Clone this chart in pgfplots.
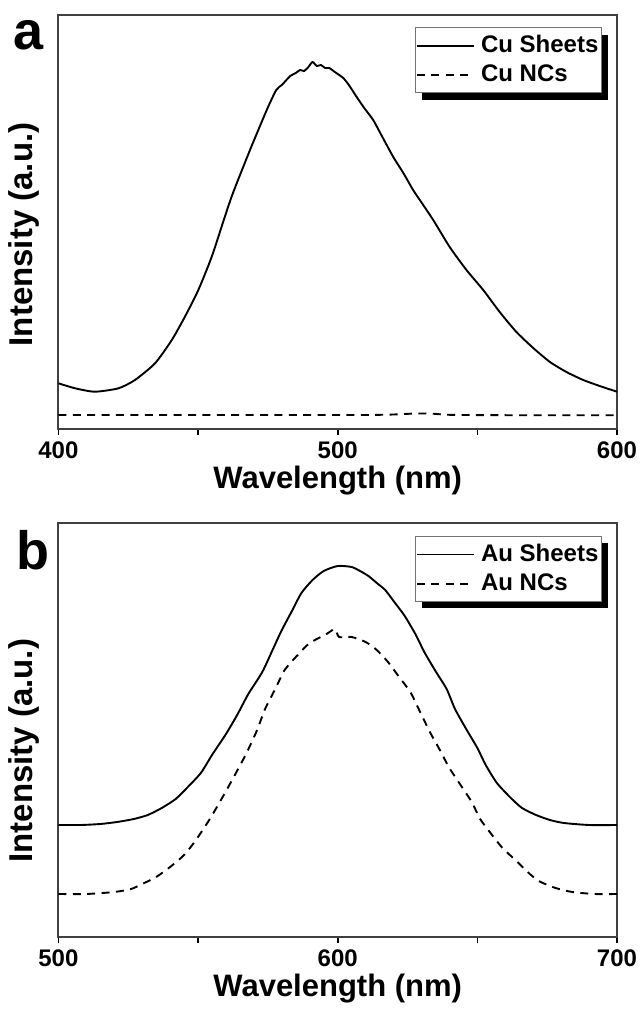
\documentclass[border=0pt]{standalone}
\usepackage{fontspec}
\setmainfont{Liberation Sans}
\usepackage{pgfplots}
\pgfplotsset{compat=1.18}
\usetikzlibrary{shadows}

% Cu sheets / Cu NCs (panel a) -- intensity in arbitrary units
\pgfplotstableread{
x y
400 45.7
406 40.7
413 37.3
421.5 40.7
427.4 49
434.6 65.7
440.6 89
445.3 112.3
450.1 139
454.9 172.3
459.6 212.3
462.5 236
468.6 279
474.6 319
478 339
480 344
483 353
485 356
486.5 359
488 358
489.5 362
491 367
492.5 363
494 364
495.5 361
497 361
498.5 358
500 355
502 351
504 344
506.8 332
509.5 321
512.7 309
516 292
519.9 272
523.5 256
527 239
529.4 229
534.2 209
540.1 182
546.1 159
552.1 139
558 117
564 97
570 81
576 67
581.9 57
587.9 49
593.8 43
600 37.3
}\cusheets

\pgfplotstableread{
x y
400 14
430 14
460 14
490 14
510 14
520 14.5
528 15.5
534 15.3
540 14.2
560 13.8
600 13.8
}\cuncs

% Au sheets / Au NCs (panel b)
\pgfplotstableread{
x y
500 112
508 112
515 113
521 115
527 118
532 122
537 129
542 138
546 149
551 164
555 182
560 203
564 222
568 243
573 265
577 289
580 307
584 328
587 344
591 357
595 366
600 371
605 370
608 366
611 361
614 354
617 347
620 336
624 321
628 302
631 285
635 266
639 248
642 228
646 208
650 189
653 172
657 154
662 139
666 129
671 122
676 117
681 114
690 112
700 112
}\ausheets

\pgfplotstableread{
x y
500 43
510 43
520 45
526 48
530 53
535 60
540 70
545 82
549 96
554 117
558 136
562 156
567 182
571 206
574 228
578 250
581 267
586 283
590 294
596 303
599 308
600.5 300
605 300
610 295
614 287
618 275
622 260
626 245
629 228
633 205
636 190
640 169
644 152
648 135
651 118
655 103
659 89
664 76
668 65
672 56
678 49
684 45
692 43
700 43
}\auncs

\pgfplotsset{
  spec/.style={
    scale only axis,
    width=279.3pt, height=207pt,
    ymin=0, ymax=414,
    ytick=\empty,
    axis line style={line width=1pt, black!75},
    tick style={line width=0.8pt, black},
    tick align=outside,
    xtick pos=bottom,
    major tick length=3pt,
    minor tick length=3pt,
    minor x tick num=1,
    /pgf/number format/assume math mode=true,
    /pgf/number format/set thousands separator={},
    xticklabel style={font=\fontsize{12}{12}\selectfont\bfseries},
    xlabel style={font=\fontsize{15.5}{15.5}\selectfont\bfseries,
      at={(axis description cs:0.5,0)}, anchor=north, yshift=-15pt},
    ylabel style={font=\fontsize{16.5}{16.5}\selectfont\bfseries, anchor=south},
    xlabel={Wavelength (nm)},
    ylabel={Intensity (a.u.)},
    legend cell align=left,
    legend style={
      draw=black!55, line width=0.5pt, fill=white,
      font=\fontsize{12}{12}\selectfont\bfseries,
      row sep=1.5pt, inner xsep=0.5pt, inner ysep=2.5pt,
      nodes={inner xsep=1pt, inner ysep=1.5pt},
      drop shadow={fill=black, opacity=1, shadow xshift=3.5pt, shadow yshift=-3.5pt},
    },
    legend image code/.code={%
      \begin{scope}[#1]
        \pgfpathmoveto{\pgfpoint{0pt}{0pt}}%
        \pgfpathlineto{\pgfpoint{28.5pt}{0pt}}%
        \pgfusepath{stroke}%
        \pgfpathmoveto{\pgfpoint{31pt}{0pt}}%
        \pgfusepath{discard}%
      \end{scope}},
  },
  sheet/.style={black, line width=0.95pt, smooth, tension=0.4},
  ncs/.style={black, line width=0.95pt, dash pattern=on 4pt off 3.2pt, smooth, tension=0.4},
}

\begin{document}
\begin{tikzpicture}
\useasboundingbox (0,0) rectangle (321pt,507pt);

\begin{axis}[spec, at={(29.2pt,292.5pt)}, anchor=south west,
    xmin=400, xmax=600, xtick={400,500,600},
    ylabel style={at={(axis description cs:-0.021,0.47)}},
    legend style={at={(axis description cs:0.973,0.971)}, anchor=north east}]
  \addplot[sheet] table {\cusheets};
  \addlegendentry{Cu Sheets}
  \addplot[ncs] table {\cuncs};
  \addlegendentry{Cu NCs}
\end{axis}
\node[anchor=base west, font=\fontsize{27}{27}\selectfont\bfseries, inner sep=0pt] at (6.5pt,482pt) {a};

\begin{axis}[spec, at={(29.2pt,38.5pt)}, anchor=south west,
    xmin=500, xmax=700, xtick={500,600,700},
    ylabel style={at={(axis description cs:-0.021,0.45)}},
    legend style={at={(axis description cs:0.973,0.969)}, anchor=north east}]
  \addplot[sheet] table {\ausheets};
  \addlegendentry{Au Sheets}
  \addplot[ncs] table {\auncs};
  \addlegendentry{Au NCs}
\end{axis}
\node[anchor=base west, font=\fontsize{27}{27}\selectfont\bfseries, inner sep=0pt] at (8pt,222pt) {b};
\end{tikzpicture}
\end{document}
